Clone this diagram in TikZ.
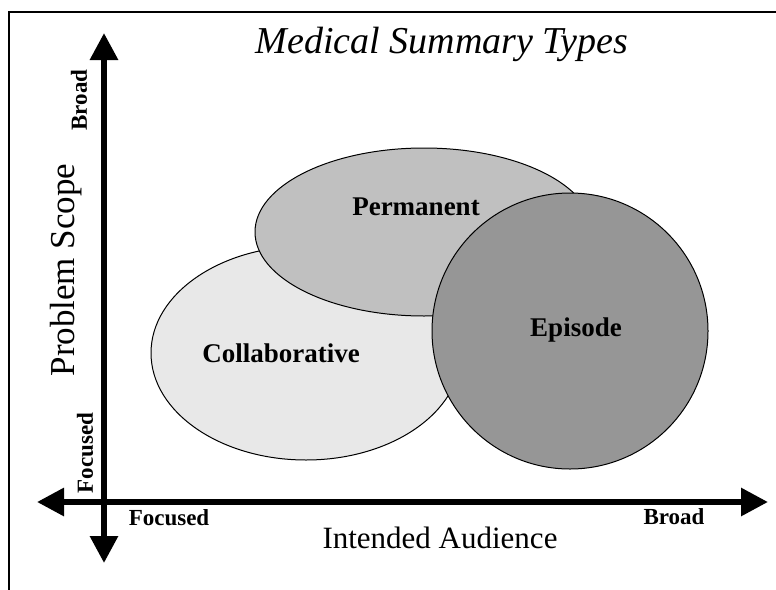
\documentclass[tikz,border=0pt]{standalone}
\usepackage{fontspec}
\setmainfont{Liberation Serif}
\usetikzlibrary{arrows.meta,shapes.geometric}
\definecolor{collabgray}{HTML}{E8E8E8}
\definecolor{permgray}{HTML}{C0C0C0}
\definecolor{episodegray}{HTML}{969696}
\tikzstyle{region}=[ellipse,
draw=black,
line width=1pt,
inner sep=0pt]
\tikzstyle{collab}=[region,
minimum width=310pt,
minimum height=214pt,
fill=collabgray]
\tikzstyle{permanent}=[region,
minimum width=338pt,
minimum height=168pt,
fill=permgray]
\tikzstyle{episode}=[circle,
draw=black,
line width=1pt,
inner sep=0pt,
minimum size=276pt,
fill=episodegray]
\tikzstyle{tag}=[font=\fontsize{27}{27}\selectfont\bfseries]
\tikzstyle{endlabel}=[font=\fontsize{23}{23}\selectfont\bfseries]
\tikzstyle{axis}=[line width=6pt,
{Triangle[length=27pt,width=27pt]}-{Triangle[length=27pt,width=27pt]}]

\begin{document}
\begin{tikzpicture}[x=1pt,y=-1pt]
	% One unit is one point, with y running downwards.
	\useasboundingbox (0,0) rectangle (776,589);
	\clip (0,0) rectangle (776,589);
	% Only the top and left edges of the frame fall on the page.
	\draw[line width=1.5pt] (9,12) rectangle (800,620);
	
	% The three summary types, drawn from back to front:
	\node (collab)  [collab]    at (306,353) {};
	\node (perm)    [permanent] at (424,232) {};
	\node (episode) [episode]   at (570,331) {};
	
	\node (collab_t)  [tag] at (281,353) {Collaborative};
	\node (perm_t)    [tag] at (416,207) {Permanent};
	\node (episode_t) [tag] at (576,330) {Episode};
	
	% Axes, arrow heads at both ends
	\coordinate (y_lo) at (104,563);
	\coordinate (y_hi) at (104,33);
	\coordinate (x_lo) at (37,502);
	\coordinate (x_hi) at (768,502);
	\draw[axis] (y_lo) -- (y_hi);
	\draw[axis] (x_lo) -- (x_hi);
	
	% Ends of the axes
	\node (y_broad)   [endlabel,rotate=90] at (79,100) {Broad};
	\node (y_focused) [endlabel,rotate=90] at (85,453) {Focused};
	\node (x_focused) [endlabel] at (169,518) {Focused};
	\node (x_broad)   [endlabel] at (674,517) {Broad};
	
	% Axis names and title
	\node (x_name) [font=\fontsize{31}{31}\selectfont] at (440,538) {Intended Audience};
	\node (y_name) [font=\fontsize{35}{35}\selectfont,rotate=90] at (66,270) {Problem Scope};
	\node (title)  [font=\fontsize{38}{38}\selectfont\itshape] at (442,44) {Medical Summary Types};
\end{tikzpicture}
\end{document}
